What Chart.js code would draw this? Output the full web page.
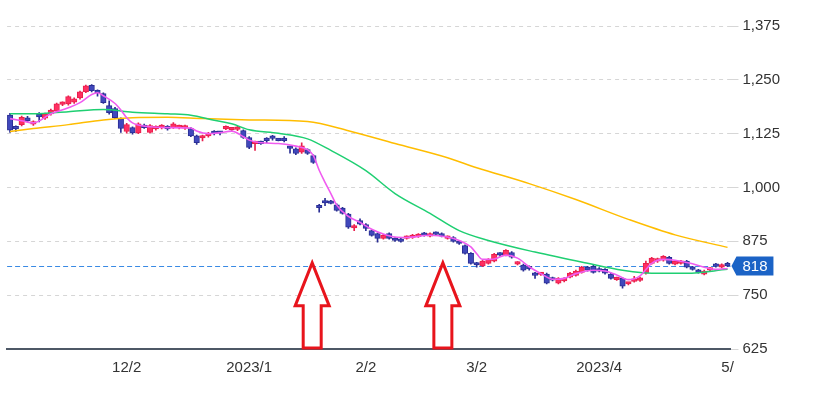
<!DOCTYPE html>
<html>
<head>
<meta charset="utf-8">
<script src="https://cdn.jsdelivr.net/npm/chart.js@4.4.0/dist/chart.umd.min.js"></script>
<style>
  html, body { margin: 0; padding: 0; background: #fff; }
  #wrap { width: 815px; height: 394px; }
</style>
</head>
<body>
<div id="wrap"><canvas id="stockChart"></canvas></div>
<script>
// ================== DATA ==================
const dates = [
  '11/2','11/4','11/7','11/8','11/9','11/10','11/11','11/14','11/15','11/16','11/17','11/18','11/21','11/22','11/24','11/25','11/28','11/29','11/30',
  '12/1','12/2','12/5','12/6','12/7','12/8','12/9','12/12','12/13','12/14','12/15','12/16','12/19','12/20','12/21','12/22','12/23','12/26','12/27','12/28','12/29','12/30',
  '1/4','1/5','1/6','1/10','1/11','1/12','1/13','1/16','1/17','1/18','1/19','1/20','1/23','1/24','1/25','1/26','1/27','1/30','1/31',
  '2/1','2/2','2/3','2/6','2/7','2/8','2/9','2/10','2/13','2/14','2/15','2/16','2/17','2/20','2/21','2/22','2/24','2/27','2/28',
  '3/1','3/2','3/3','3/6','3/7','3/8','3/9','3/10','3/13','3/14','3/15','3/16','3/17','3/20','3/22','3/23','3/24','3/27','3/28','3/29','3/30','3/31',
  '4/3','4/4','4/5','4/6','4/7','4/10','4/11','4/12','4/13','4/14','4/17','4/18','4/19','4/20','4/21','4/24','4/25','4/26','4/27','4/28',
  '5/1','5/2','5/8'
];

// axis labels shown under the chart
const tickText = { '12/2': '12/2', '1/4': '2023/1', '2/2': '2/2', '3/2': '3/2', '4/3': '2023/4', '5/8': '5/' };

const opens = [
  1168,1140,1146,1162,1147,1166,1161,1171,1177,1193,1194,1198,1208,1222,1237,1225,1218,1190,1183,1160,
  1130,1139,1127,1144,1128,1136,1139,1141,1139,1139,1138,1137,1120,1115,1120,1130,1127,1136,1134,1135,
  1132,1116,1102,1106,1110,1116,1112,1111,1093,1090,1082,1088,1074,954,965,968,960,952,938,906,
  923,914,900,893,882,893,882,880,882,884,886,894,887,895,893,882,884,873,865,847,
  823,818,824,829,845,843,849,822,820,815,801,798,799,790,778,783,792,796,803,815,
  817,812,810,799,786,789,776,782,784,801,824,829,831,838,822,824,829,815,808,799,
  808,822,815,824
];
const highs = [
  1172,1143,1166,1165,1155,1174,1173,1182,1196,1199,1213,1208,1224,1238,1239,1227,1220,1201,1186,1162,
  1149,1141,1150,1147,1146,1143,1146,1144,1151,1145,1145,1139,1122,1122,1128,1132,1130,1143,1140,1142,
  1134,1118,1108,1108,1116,1121,1114,1118,1094,1092,1104,1090,1076,961,975,970,962,954,940,914,
  927,916,902,895,891,895,884,882,888,891,893,896,895,897,895,888,886,875,867,849,
  826,831,835,847,849,856,851,828,822,818,803,803,801,792,791,791,803,808,817,817,
  819,814,812,801,792,791,780,794,792,829,838,836,842,840,831,831,831,817,810,808,
  814,824,823,826
];
const lows = [
  1128,1130,1143,1152,1144,1152,1158,1168,1175,1190,1191,1195,1205,1220,1222,1212,1195,1170,1160,1128,
  1126,1124,1125,1137,1126,1133,1136,1133,1137,1136,1135,1118,1100,1108,1117,1122,1122,1134,1130,1132,
  1114,1090,1086,1100,1104,1110,1108,1106,1080,1076,1079,1077,1056,943,958,962,945,938,905,900,
  913,900,887,873,880,880,875,873,880,882,884,887,885,889,885,880,873,868,845,822,
  815,816,822,827,840,841,836,820,806,808,789,796,776,783,776,781,790,794,801,806,
  801,804,799,787,784,766,774,780,782,799,822,826,829,822,820,822,813,808,801,797,
  806,815,813,816
];
const closes = [
  1133,1136,1163,1155,1153,1164,1171,1180,1194,1197,1211,1206,1222,1236,1225,1220,1197,1174,1162,1137,
  1146,1127,1148,1139,1144,1141,1143,1136,1148,1143,1142,1120,1104,1119,1125,1125,1126,1141,1139,1139,
  1116,1093,1105,1102,1109,1114,1109,1109,1091,1079,1097,1079,1058,953,964,963,947,940,908,911,
  915,905,889,882,889,882,877,875,886,889,891,889,893,891,887,886,875,870,847,824,
  820,829,833,845,843,854,838,826,808,811,796,801,778,785,789,789,801,806,815,808,
  803,806,801,789,790,771,778,786,790,824,836,833,840,824,829,829,815,810,803,806,
  812,817,821,818
];

// moving averages: [day index, value]
const ma5 = [
  [0,1160],[2,1155],[4,1150],[7,1171],[10,1185],[12,1197],[14,1216],[15,1220],[16,1213],[18,1195],
  [19,1180],[20,1162],[21,1150],[24,1141],[27,1139],[31,1138],[32,1131],[34,1125],[36,1127],[38,1131],
  [40,1118],[41,1110],[43,1104],[46,1102],[49,1096],[51,1088],[52,1074],[53,1040],[54,1012],[55,986],
  [56,959],[58,933],[60,919],[62,903],[64,892],[66,885],[68,884],[72,889],[75,885],[77,877],
  [79,862],[80,846],[81,833],[83,834],[85,843],[87,836],[89,816],[91,800],[93,787],[95,789],
  [97,800],[100,808],[102,806],[104,797],[106,786],[108,795],[110,824],[112,833],[114,831],[117,823],
  [119,815],[121,810],[123,812]
];
const ma25 = [
  [0,1171],[4,1171],[10,1176],[16,1181],[21,1175],[27,1171],[31,1168],[35,1156],[38,1148],[41,1134],
  [46,1126],[51,1113],[55,1086],[61,1039],[66,986],[72,940],[77,900],[82,877],[90,850],[99,824],
  [105,808],[110,801],[116,801],[123,810]
];
const ma75 = [
  [0,1130],[4,1137],[10,1146],[16,1157],[21,1162],[27,1163],[33,1160],[41,1157],[51,1153],[58,1132],
  [66,1102],[75,1069],[80,1046],[89,1009],[97,972],[106,926],[114,890],[123,861]
];

const lastPrice = 818;
const yTicks = [625, 750, 875, 1000, 1125, 1250, 1375];

// annotation arrows (position in days, tip value)
const arrowDays = [51.8, 74.2];
const arrowTip = 825;

// ================== CHART ==================
const UP = '#ff2f62', UP_EDGE = '#e81f4c';
const DOWN = '#4048bc', DOWN_EDGE = '#2a2e94';
const isUp = closes.map((c, i) => c >= opens[i]);
const FONT = 'Arial, "Liberation Sans", sans-serif';

const toPoints = arr => arr.map(([i, v]) => ({ x: dates[i], y: v }));

const overlay = {
    id: 'overlay',
    beforeDatasetsDraw(chart) {
        const { ctx, chartArea: a, scales: { y } } = chart;
        const py = Math.round(y.getPixelForValue(lastPrice)) + 0.5;
        ctx.save();
        ctx.strokeStyle = '#3a8ae4';
        ctx.lineWidth = 1;
        ctx.setLineDash([5, 3]);
        ctx.beginPath();
        ctx.moveTo(a.left, py);
        ctx.lineTo(a.right, py);
        ctx.stroke();
        ctx.restore();
    },
    afterDatasetsDraw(chart) {
        const { ctx, chartArea: a, scales: { x, y } } = chart;
        ctx.save();
        ctx.strokeStyle = '#e8141c';
        ctx.lineWidth = 3;
        ctx.lineJoin = 'miter';
        arrowDays.forEach(d => {
            const cx = x.getPixelForValue(d);
            const tip = y.getPixelForValue(arrowTip);
            const neck = tip + 43;
            const base = a.bottom - 1;
            ctx.beginPath();
            ctx.moveTo(cx, tip);
            ctx.lineTo(cx + 17, neck);
            ctx.lineTo(cx + 9, neck);
            ctx.lineTo(cx + 9, base);
            ctx.lineTo(cx - 9, base);
            ctx.lineTo(cx - 9, neck);
            ctx.lineTo(cx - 17, neck);
            ctx.closePath();
            ctx.stroke();
        });
        ctx.restore();
    },
    afterDraw(chart) {
        const { ctx, chartArea: a, scales: { y } } = chart;
        const py = y.getPixelForValue(lastPrice);
        const x0 = a.right + 1, x1 = a.right + 6, x2 = a.right + 43;
        ctx.save();
        ctx.fillStyle = '#1b63c6';
        ctx.beginPath();
        ctx.moveTo(x0, py);
        ctx.lineTo(x1, py - 9.5);
        ctx.lineTo(x2, py - 9.5);
        ctx.lineTo(x2, py + 9.5);
        ctx.lineTo(x1, py + 9.5);
        ctx.closePath();
        ctx.fill();
        ctx.fillStyle = '#fff';
        ctx.font = '15px ' + FONT;
        ctx.textAlign = 'center';
        ctx.textBaseline = 'middle';
        ctx.fillText(String(lastPrice), (x1 + x2) / 2, py + 1);
        ctx.restore();
    }
};

new Chart(document.getElementById('stockChart'), {
    type: 'bar',
    data: {
        labels: dates,
        datasets: [
            {
                type: 'line', label: '5', data: toPoints(ma5),
                borderColor: '#f05cf0', borderWidth: 1.6, pointRadius: 0,
                cubicInterpolationMode: 'monotone', order: 0
            },
            {
                type: 'line', label: '25', data: toPoints(ma25),
                borderColor: '#1fcf72', borderWidth: 1.5, pointRadius: 0,
                cubicInterpolationMode: 'monotone', order: 0
            },
            {
                type: 'line', label: '75', data: toPoints(ma75),
                borderColor: '#ffbd00', borderWidth: 1.5, pointRadius: 0,
                cubicInterpolationMode: 'monotone', order: 0
            },
            {
                label: 'body',
                data: dates.map((d, i) => [opens[i], closes[i]]),
                backgroundColor: isUp.map(u => u ? UP : DOWN),
                borderColor: isUp.map(u => u ? UP_EDGE : DOWN_EDGE),
                borderWidth: 1, borderSkipped: false,
                barThickness: 5.5, minBarLength: 2.5, grouped: false, order: 1
            },
            {
                label: 'wick',
                data: dates.map((d, i) => [lows[i], highs[i]]),
                backgroundColor: isUp.map(u => u ? UP_EDGE : DOWN_EDGE),
                barThickness: 1, grouped: false, order: 2
            }
        ]
    },
    options: {
        responsive: true,
        maintainAspectRatio: false,
        animation: false,
        layout: { padding: { left: 3, right: 31, top: 26, bottom: 7 } },
        plugins: { legend: { display: false }, tooltip: { enabled: false } },
        scales: {
            x: {
                offset: true,
                grid: { display: false, tickLength: 0 },
                border: { display: true, color: '#4d5866', width: 2 },
                ticks: {
                    autoSkip: false, maxRotation: 0, padding: 10,
                    color: '#333', font: { family: FONT, size: 15 },
                    callback: (v, i) => tickText[dates[i]] || ''
                }
            },
            y: {
                position: 'right',
                min: 625, max: 1375,
                afterBuildTicks: s => { s.ticks = yTicks.map(v => ({ value: v })); },
                grid: { color: '#d6d6d6', tickLength: 8 },
                border: { display: false, dash: [4, 4] },
                ticks: {
                    padding: 4, color: '#333', font: { family: FONT, size: 15 },
                    callback: v => v.toLocaleString('en-US')
                }
            }
        }
    },
    plugins: [overlay]
});
</script>
</body>
</html>
